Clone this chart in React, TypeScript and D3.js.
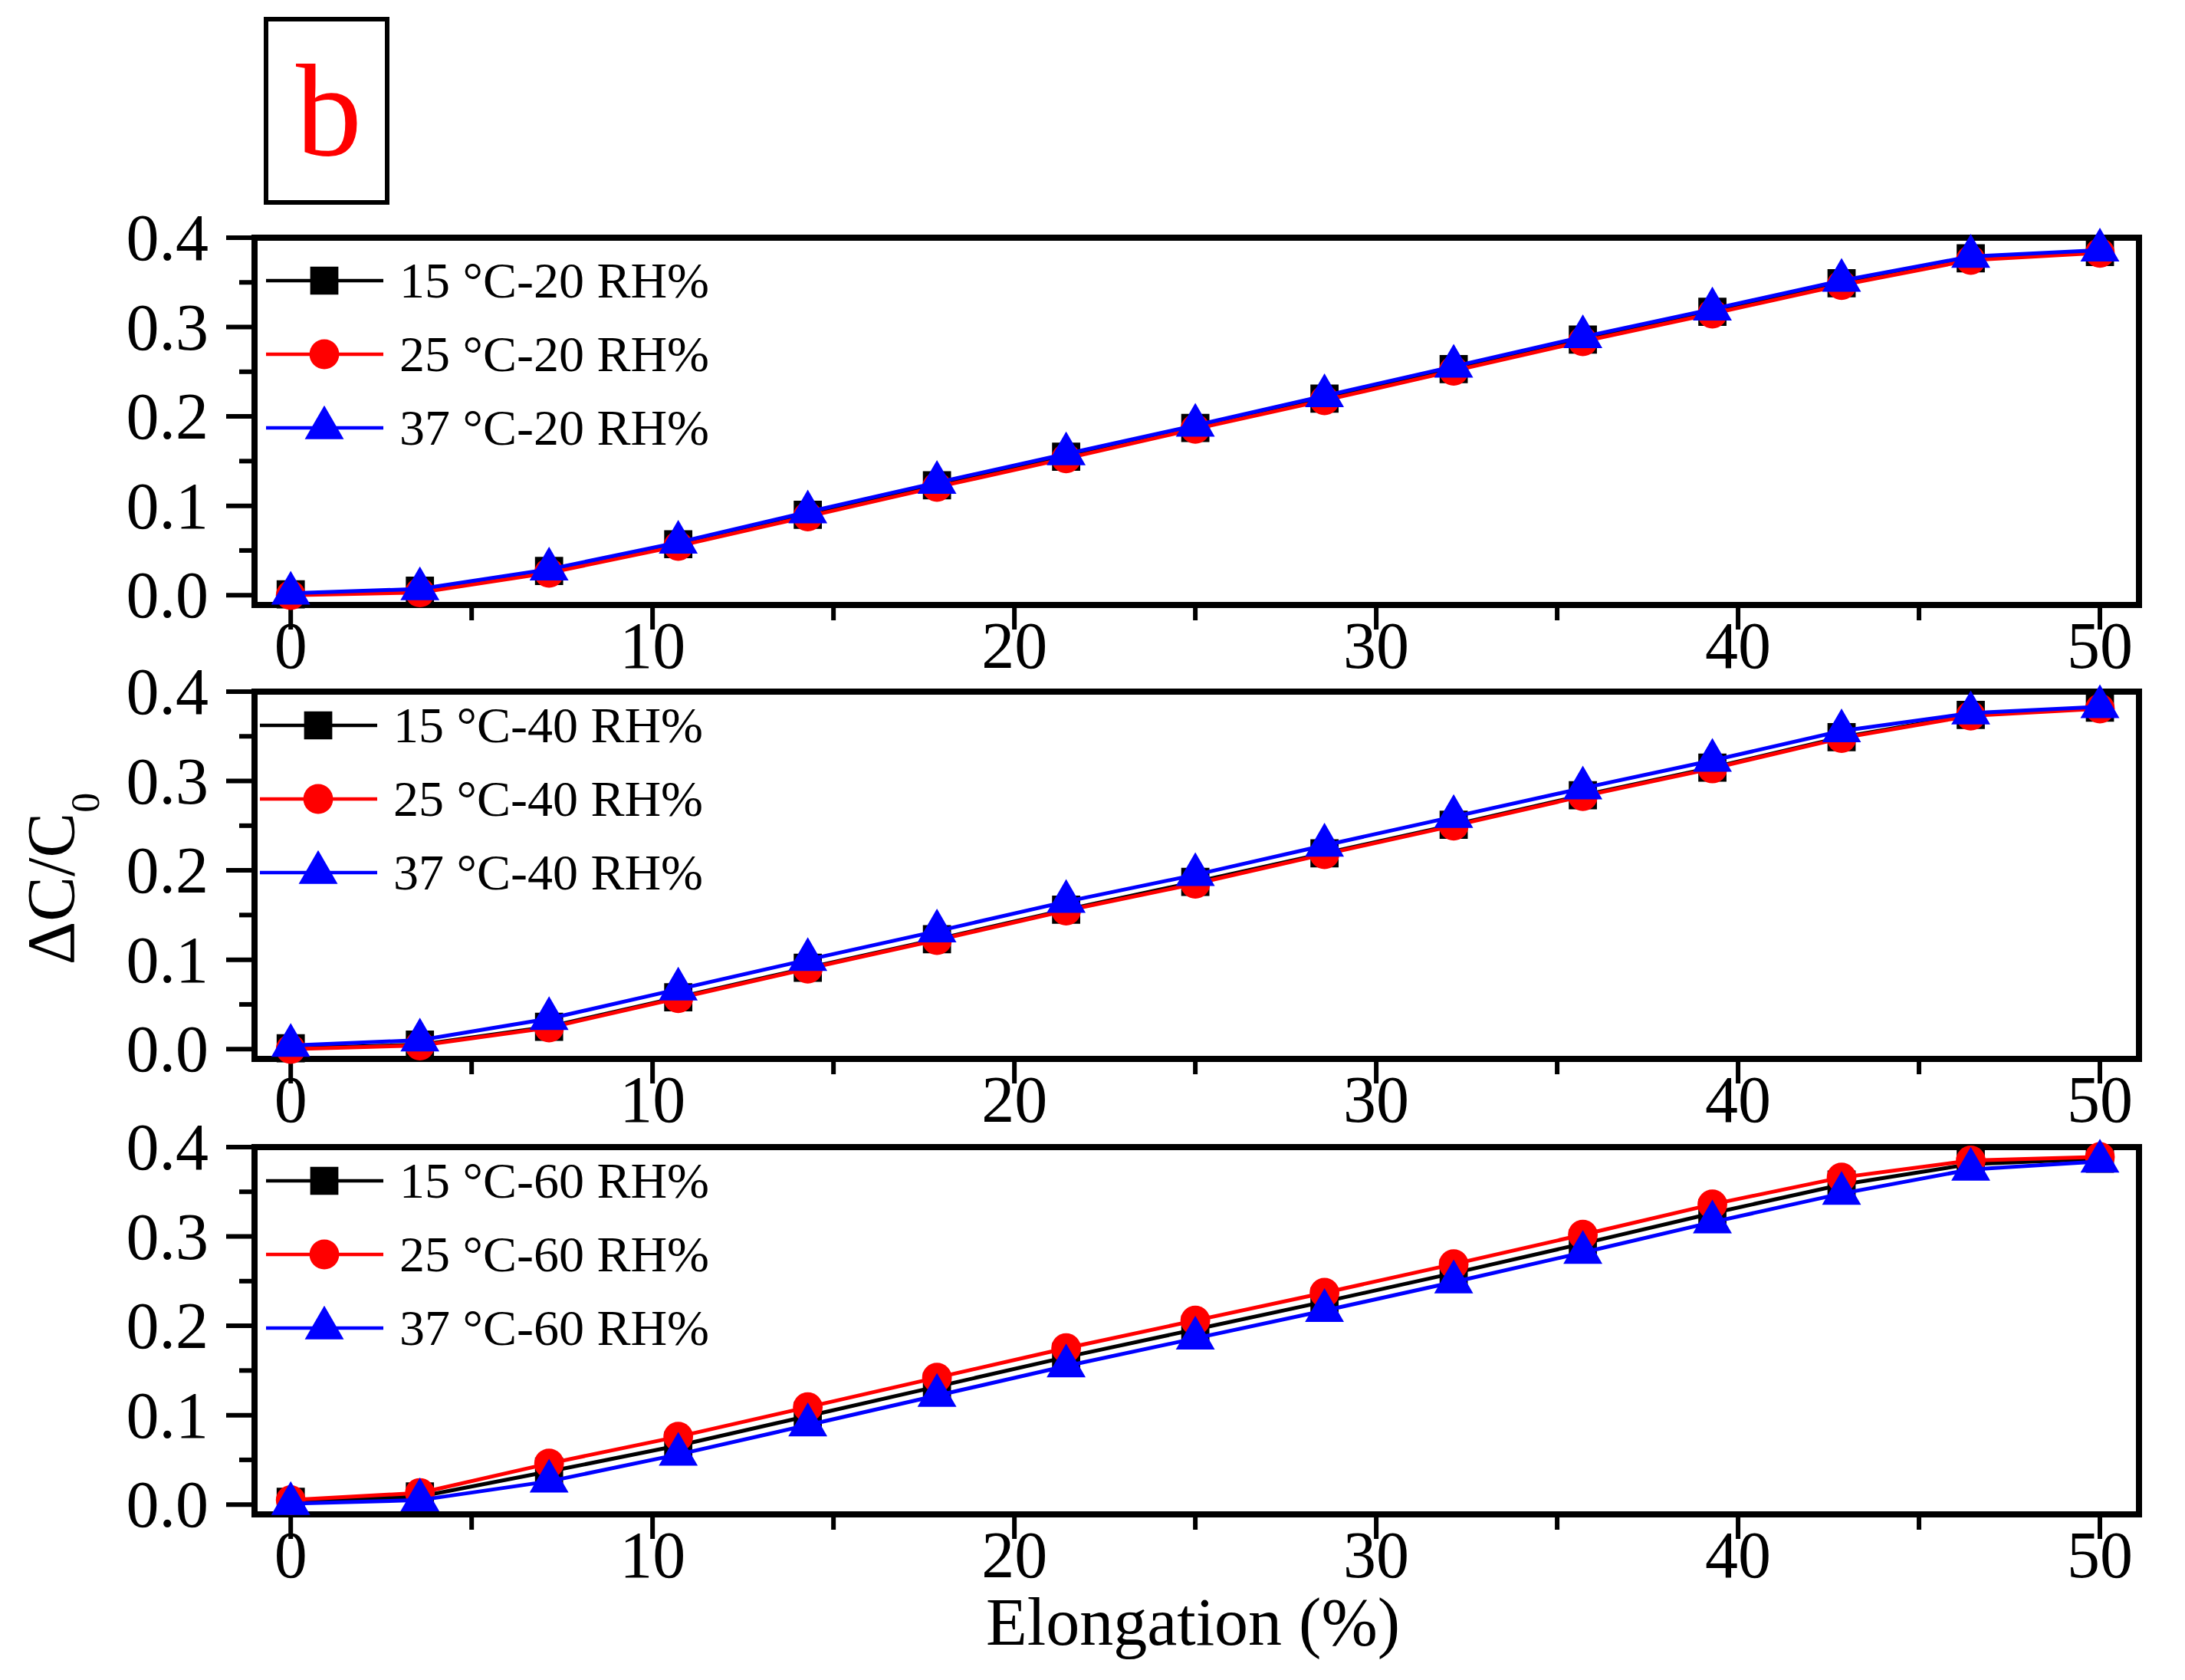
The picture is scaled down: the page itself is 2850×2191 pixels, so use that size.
import React from "react";
import * as d3 from "d3";

// elongation steps (%)
const elongation = [0, 3.57, 7.14, 10.71, 14.29, 17.86, 21.43, 25, 28.57, 32.14, 35.71, 39.29, 42.86, 46.43, 50];

const temperatures = ["15", "25", "37"];
const humidities = ["20", "40", "60"];

// ΔC/C0, one array per temperature and humidity
const t15rh20 = [0.001, 0.005, 0.027, 0.057, 0.090, 0.123, 0.155, 0.187, 0.220, 0.253, 0.286, 0.317, 0.349, 0.377, 0.384];
const t25rh20 = [0.000, 0.003, 0.025, 0.055, 0.088, 0.121, 0.153, 0.186, 0.218, 0.251, 0.284, 0.315, 0.347, 0.375, 0.383];
const t37rh20 = [0.002, 0.007, 0.029, 0.059, 0.093, 0.126, 0.158, 0.190, 0.223, 0.256, 0.289, 0.320, 0.352, 0.379, 0.386];

const t15rh40 = [0.001, 0.005, 0.025, 0.058, 0.091, 0.123, 0.156, 0.187, 0.219, 0.251, 0.284, 0.315, 0.349, 0.374, 0.382];
const t25rh40 = [0.000, 0.004, 0.024, 0.057, 0.090, 0.122, 0.155, 0.185, 0.218, 0.250, 0.283, 0.314, 0.348, 0.373, 0.381];
const t37rh40 = [0.004, 0.010, 0.034, 0.067, 0.100, 0.132, 0.165, 0.195, 0.228, 0.260, 0.292, 0.323, 0.356, 0.376, 0.383];

const t15rh60 = [0.003, 0.009, 0.037, 0.066, 0.099, 0.132, 0.165, 0.196, 0.227, 0.259, 0.292, 0.326, 0.358, 0.381, 0.387];
const t25rh60 = [0.005, 0.013, 0.046, 0.076, 0.109, 0.142, 0.175, 0.206, 0.237, 0.269, 0.302, 0.336, 0.366, 0.385, 0.389];
const t37rh60 = [0.001, 0.005, 0.026, 0.056, 0.089, 0.122, 0.155, 0.186, 0.217, 0.249, 0.282, 0.316, 0.348, 0.375, 0.384];

const panelSeries = [
  [t15rh20, t25rh20, t37rh20],
  [t15rh40, t25rh40, t37rh40],
  [t15rh60, t25rh60, t37rh60],
];

const xTicks = [0, 10, 20, 30, 40, 50];
const xMinorTicks = [5, 15, 25, 35, 45];
const yTicks = [0, 0.1, 0.2, 0.3, 0.4];
const yMinorTicks = [0.05, 0.15, 0.25, 0.35];

const W = 2850;
const H = 2191;
const FONT = "'Times New Roman', 'Liberation Serif', serif";
const colors = ["#000000", "#ff0000", "#0000ff"];
const symbols = [d3.symbolSquare, d3.symbolCircle, d3.symbolTriangle];
const symbolSizes = [1350, 1180, 1120];

const frame = { left: 332, right: 2790, height: 479 };
const panelTops = [310, 902, 1496];
const legendOffsets = [
  { dx: 0, dy: 56 },
  { dx: -8, dy: 44 },
  { dx: 0, dy: 44 },
];

const x = d3.scaleLinear().domain([-1, 51.08]).range([frame.left, frame.right]);
const fmtY = d3.format(".1f");

function Panel({ index }: { index: number }) {
  const top = panelTops[index];
  const bottom = top + frame.height;
  const y = d3.scaleLinear().domain([-0.011, 0.4]).range([bottom, top]);
  const series = panelSeries[index];
  const leg = legendOffsets[index];

  const line = d3
    .line<number>()
    .x((_, i) => x(elongation[i]))
    .y((d) => y(d));

  return (
    <g>
      <rect
        x={frame.left}
        y={top}
        width={frame.right - frame.left}
        height={frame.height}
        fill="none"
        stroke="#000"
        strokeWidth={8}
      />
      {/* y axis ticks */}
      {yTicks.map((t) => (
        <g key={"y" + t}>
          <line x1={frame.left - 37} x2={frame.left} y1={y(t)} y2={y(t)} stroke="#000" strokeWidth={6} />
          <text
            x={frame.left - 60}
            y={y(t)}
            dy="0.34em"
            textAnchor="end"
            fontSize={86}
            fontFamily={FONT}
          >
            {fmtY(t)}
          </text>
        </g>
      ))}
      {yMinorTicks.map((t) => (
        <line key={"ym" + t} x1={frame.left - 20} x2={frame.left} y1={y(t)} y2={y(t)} stroke="#000" strokeWidth={6} />
      ))}
      {/* x axis ticks */}
      {xTicks.map((t) => (
        <g key={"x" + t}>
          <line x1={x(t)} x2={x(t)} y1={bottom} y2={bottom + 32} stroke="#000" strokeWidth={6} />
          <text x={x(t)} y={bottom + 82} textAnchor="middle" fontSize={86} fontFamily={FONT}>
            {t}
          </text>
        </g>
      ))}
      {xMinorTicks.map((t) => (
        <line key={"xm" + t} x1={x(t)} x2={x(t)} y1={bottom} y2={bottom + 20} stroke="#000" strokeWidth={6} />
      ))}
      {/* series */}
      {series.map((vals, s) => (
        <g key={"s" + s}>
          <path d={line(vals) ?? ""} fill="none" stroke={colors[s]} strokeWidth={5} />
          {vals.map((v, i) => (
            <path
              key={i}
              transform={`translate(${x(elongation[i])},${y(v)})`}
              d={d3.symbol(symbols[s], symbolSizes[s])() ?? ""}
              fill={colors[s]}
            />
          ))}
        </g>
      ))}
      {/* legend */}
      {temperatures.map((temp, s) => {
        const ly = top + leg.dy + s * 96;
        return (
          <g key={"l" + s}>
            <line x1={347 + leg.dx} x2={500 + leg.dx} y1={ly} y2={ly} stroke={colors[s]} strokeWidth={4.5} />
            <path
              transform={`translate(${423 + leg.dx},${ly})`}
              d={d3.symbol(symbols[s], symbolSizes[s])() ?? ""}
              fill={colors[s]}
            />
            <text x={521 + leg.dx} y={ly + 22} fontSize={66} fontFamily={FONT}>
              {`${temp} °C-${humidities[index]} RH%`}
            </text>
          </g>
        );
      })}
    </g>
  );
}

export default function App() {
  return (
    <svg
      width={W}
      height={H}
      viewBox={`0 0 ${W} ${H}`}
      style={{ position: "absolute", left: 0, top: 0, background: "#fff" }}
    >
      <rect x={0} y={0} width={W} height={H} fill="#fff" />
      {/* panel letter */}
      <rect x={347} y={25} width={158} height={239} fill="none" stroke="#000" strokeWidth={6} />
      <text x={429} y={202} textAnchor="middle" fontSize={172} fontFamily={FONT} fill="#ff0000">
        b
      </text>
      {[0, 1, 2].map((i) => (
        <Panel key={i} index={i} />
      ))}
      <text
        transform={`translate(96,1146) rotate(-90)`}
        textAnchor="middle"
        fontSize={88}
        fontFamily={FONT}
      >
        ΔC/C
        <tspan fontSize={52} dy={33}>
          0
        </tspan>
      </text>
      <text x={1556} y={2145} textAnchor="middle" fontSize={88} fontFamily={FONT}>
        Elongation (%)
      </text>
    </svg>
  );
}
